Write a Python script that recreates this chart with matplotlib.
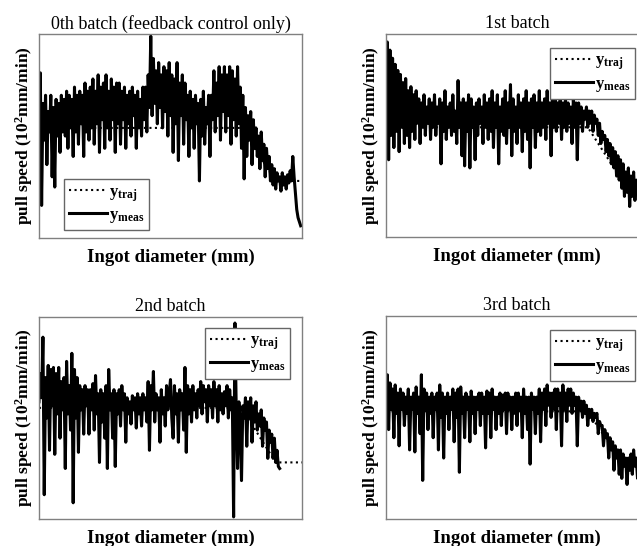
import numpy as np
import matplotlib
matplotlib.use("Agg")
import matplotlib.pyplot as plt

plt.rcParams['font.family'] = 'Liberation Serif'
plt.rcParams['mathtext.fontset'] = 'custom'
plt.rcParams['mathtext.rm'] = 'Liberation Serif'
plt.rcParams['mathtext.bf'] = 'Liberation Serif:bold'
plt.rcParams['mathtext.default'] = 'bf'

# pull speed, % of plotted range, 2 samples per 1% of ingot diameter
meas0 = [60, 81, 16, 66, 48, 70, 36, 62, 52, 70, 30, 64, 25, 68, 50, 66, 42, 70, 52, 68,
         50, 72, 44, 70, 54, 68, 40, 74, 52, 70, 46, 72, 56, 70, 40, 76, 52, 72, 48, 74,
         54, 78, 46, 72, 56, 80, 42, 74, 58, 76, 44, 80, 54, 72, 48, 78, 58, 74, 42, 76,
         56, 76, 46, 72, 58, 74, 44, 70, 56, 72, 50, 74, 60, 70, 44, 72, 54, 68, 50, 74,
         58, 74, 52, 80, 64, 99, 60, 88, 66, 82, 56, 86, 64, 80, 54, 84, 62, 82, 50, 86,
         60, 80, 42, 78, 56, 86, 38, 76, 60, 80, 46, 76, 58, 70, 40, 72, 54, 68, 44, 70,
         56, 66, 28, 68, 50, 72, 46, 64, 56, 70, 40, 70, 58, 82, 52, 76, 60, 84, 48, 80,
         62, 84, 52, 80, 60, 84, 46, 82, 58, 78, 50, 84, 56, 74, 44, 70, 29, 64, 40, 60,
         48, 62, 36, 58, 44, 54, 40, 50, 34, 52, 38, 46, 30, 44, 34, 40, 28, 36, 26, 34,
         24, 32, 28, 30, 23, 32, 26, 30, 24, 31, 27, 33, 28, 40, 30, 22, 14, 10, 8, 6]

meas1 = [60, 96, 38, 92, 50, 88, 44, 85, 52, 82, 42, 80, 54, 76, 46, 78, 50, 72, 44, 74,
         52, 70, 48, 72, 56, 68, 46, 66, 54, 70, 50, 64, 56, 68, 48, 66, 54, 70, 50, 64,
         56, 68, 36, 66, 52, 72, 48, 64, 54, 66, 50, 70, 52, 62, 46, 77, 54, 66, 40, 68,
         35, 66, 52, 70, 34, 68, 54, 64, 38, 66, 50, 68, 56, 64, 46, 70, 54, 66, 48, 68,
         52, 72, 44, 66, 54, 70, 36, 64, 52, 68, 50, 72, 46, 66, 54, 75, 40, 68, 52, 64,
         46, 70, 54, 66, 42, 68, 52, 72, 48, 66, 34, 68, 54, 70, 44, 66, 52, 72, 50, 66,
         54, 68, 48, 72, 56, 66, 40, 70, 54, 68, 52, 66, 56, 70, 48, 66, 54, 68, 52, 66,
         56, 64, 46, 68, 54, 66, 38, 66, 56, 64, 52, 62, 58, 64, 54, 62, 56, 62, 52, 60,
         56, 58, 50, 56, 46, 52, 48, 50, 42, 48, 40, 46, 36, 44, 34, 42, 30, 40, 28, 38,
         24, 36, 20, 32, 22, 34, 15, 30, 20, 32, 18, 28, 22, 30, 18, 26, 22, 28, 20, 26]

meas2 = [58, 72, 60, 90, 12, 70, 50, 76, 34, 74, 56, 75, 32, 72, 52, 75, 40, 68, 54, 70,
         25, 78, 52, 66, 44, 82, 8, 74, 50, 70, 33, 66, 54, 64, 42, 66, 56, 64, 42, 64,
         54, 67, 44, 71, 52, 62, 28, 64, 48, 62, 40, 66, 25, 74, 54, 62, 40, 64, 26, 62,
         52, 64, 46, 66, 54, 62, 38, 60, 52, 58, 47, 61, 54, 60, 45, 62, 52, 60, 46, 62,
         54, 60, 48, 68, 34, 66, 54, 73, 48, 62, 54, 60, 38, 64, 52, 60, 46, 66, 54, 62,
         69, 50, 40, 66, 52, 62, 38, 64, 54, 62, 44, 75, 33, 66, 52, 64, 48, 66, 54, 62,
         50, 64, 56, 68, 52, 66, 58, 64, 48, 66, 56, 64, 50, 68, 56, 64, 48, 66, 54, 62,
         52, 63, 56, 66, 50, 64, 54, 60, 1, 97, 54, 25, 58, 48, 19, 56, 50, 60, 36, 58,
         50, 60, 38, 56, 48, 58, 44, 52, 46, 54, 36, 50, 44, 48, 30, 44, 38, 42, 30, 40,
         28, 34, 26, 25]

meas3 = [60, 71, 44, 67, 54, 64, 40, 66, 52, 62, 36, 64, 54, 62, 46, 60, 52, 64, 34, 60,
         54, 62, 33, 65, 52, 60, 42, 71, 19, 64, 54, 62, 44, 60, 52, 62, 40, 60, 54, 62,
         34, 66, 50, 62, 30, 60, 52, 62, 44, 60, 54, 64, 38, 62, 50, 64, 23, 65, 52, 60,
         40, 62, 54, 60, 38, 63, 52, 60, 42, 60, 54, 62, 46, 62, 52, 60, 35, 63, 52, 62,
         40, 64, 54, 60, 44, 60, 52, 62, 46, 61, 54, 62, 42, 62, 54, 60, 44, 60, 52, 62,
         46, 62, 54, 60, 40, 64, 52, 60, 44, 60, 27, 62, 54, 60, 42, 60, 52, 64, 38, 62,
         54, 64, 46, 66, 56, 62, 50, 62, 54, 64, 44, 64, 56, 62, 36, 66, 54, 62, 48, 64,
         56, 64, 52, 62, 56, 60, 36, 60, 54, 58, 50, 58, 52, 56, 46, 54, 50, 54, 48, 52,
         50, 52, 42, 48, 46, 46, 36, 44, 40, 42, 30, 40, 34, 38, 24, 36, 30, 34, 22, 34,
         20, 32, 26, 30, 17, 30, 24, 32, 22, 34, 26, 30, 20, 30, 24, 32, 22, 30, 26, 32]

meas_end = [99.5, 99.5, 91.5, 99.5]

# reference trajectory (breakpoints)
traj_x = [0, 77, 90, 100]
traj0 = [54, 54, 28, 28]
traj1 = [54, 54, 28, 28]
traj2 = [55, 55, 28, 28]
traj3 = [53, 53, 28, 28]

titles = ['0th batch (feedback control only)', '1st batch', '2nd batch', '3rd batch']

fig = plt.figure(figsize=(6.37, 5.46), dpi=100)

rects = [[0.0612, 0.564, 0.4129, 0.3736],
         [0.606, 0.566, 0.4113, 0.372],
         [0.0612, 0.0495, 0.4129, 0.370],
         [0.606, 0.0495, 0.4113, 0.372]]

legend_pos = [('lower left', (0.095, 0.04)),
              ('upper right', (0.95, 0.931)),
              ('upper right', (0.954, 0.945)),
              ('upper right', (0.95, 0.931))]

series = [(meas0, traj0), (meas1, traj1), (meas2, traj2), (meas3, traj3)]

for k in range(4):
    ax = fig.add_axes(rects[k])
    meas, traj = series[k]
    xm = np.linspace(0, meas_end[k], len(meas))
    ax.plot(traj_x, traj, color='k', ls=':', lw=1.5, label=r'$y_{traj}$')
    ax.plot(xm, meas, color='k', lw=2.2, label=r'$y_{meas}$')
    ax.set_xlim(0, 100)
    ax.set_ylim(0, 100)
    ax.set_xticks([])
    ax.set_yticks([])
    for s in ax.spines.values():
        s.set_color('0.5')
        s.set_linewidth(1.0)
    ax.set_title(titles[k], fontsize=13, pad=4)
    ax.set_xlabel('Ingot diameter (mm)', fontsize=13.5, fontweight='bold', labelpad=8)
    ax.set_ylabel('pull speed (10$^2$mm/min)', fontsize=12.5, fontweight='bold', labelpad=3)
    loc, anchor = legend_pos[k]
    leg = ax.legend(loc=loc, bbox_to_anchor=anchor, borderaxespad=0, fontsize=12,
                    fancybox=False, framealpha=1, edgecolor='0.4',
                    handlelength=2.3, handletextpad=0.1, borderpad=0.3,
                    labelspacing=0.2)
    leg.get_frame().set_linewidth(1.0)

fig.savefig('out.png', dpi=100)
